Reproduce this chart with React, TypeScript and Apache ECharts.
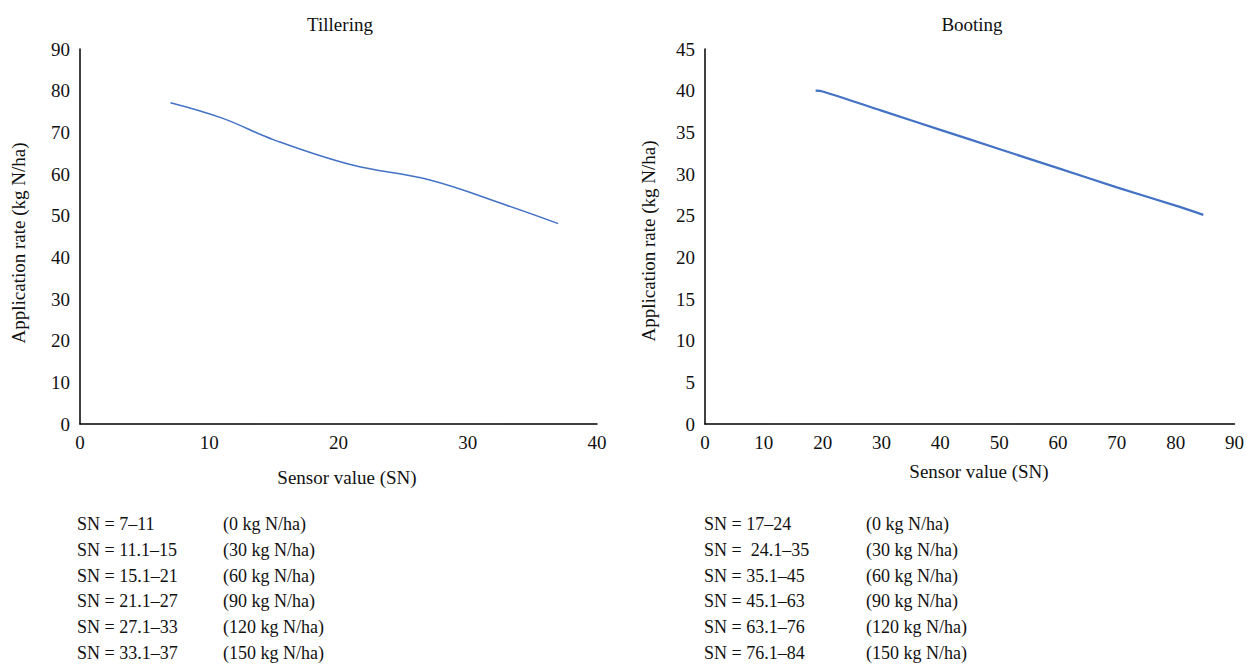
import React, { useEffect, useRef } from "react";
import * as echarts from "echarts";

const tilleringSN = [7, 11, 15, 21, 27, 33, 37];
const tilleringRate = [77.1, 73.4, 68.2, 62.2, 58.6, 52.5, 48.1];

const bootingSN = [18.8, 20, 30, 40, 50, 60, 70, 80, 84.7];
const bootingRate = [40.0, 39.9, 37.6, 35.3, 33.0, 30.7, 28.4, 26.2, 25.1];

const tilleringRanges = ["SN = 7–11", "SN = 11.1–15", "SN = 15.1–21", "SN = 21.1–27", "SN = 27.1–33", "SN = 33.1–37"];
const bootingRanges = ["SN = 17–24", "SN =  24.1–35", "SN = 35.1–45", "SN = 45.1–63", "SN = 63.1–76", "SN = 76.1–84"];
const rateLabels = ["(0 kg N/ha)", "(30 kg N/ha)", "(60 kg N/ha)", "(90 kg N/ha)", "(120 kg N/ha)", "(150 kg N/ha)"];

const FONT = "'Liberation Serif', 'Times New Roman', serif";
const INK = "#111";

export default function App() {
  const ref = useRef<HTMLDivElement>(null);
  useEffect(() => {
    document.body.style.margin = "0";
    const chart = echarts.init(ref.current!, null, { renderer: "svg" });
    const axisLine = { show: true, lineStyle: { color: "#000", width: 1.5 } };
    const axisLabel = { color: INK, fontSize: 19, fontFamily: FONT };
    const texts: any[] = [];
    const addCol = (arr: string[], x: number) => {
      arr.forEach((t, i) => {
        texts.push({
          type: "text",
          x,
          y: 524 + i * 25.8,
          style: { text: t, fontSize: 18, fontFamily: FONT, fill: INK, align: "left", verticalAlign: "middle" },
        });
      });
    };
    addCol(tilleringRanges, 77);
    addCol(rateLabels, 223);
    addCol(bootingRanges, 704);
    addCol(rateLabels, 866);

    const label = (text: string, x: number, y: number, rot = 0) => ({
      type: "text",
      x,
      y,
      rotation: rot,
      style: { text, fontSize: 19, fontFamily: FONT, fill: INK, align: "center", verticalAlign: "middle" },
    });
    texts.push(label("Tillering", 340, 24));
    texts.push(label("Booting", 972, 24));
    texts.push(label("Sensor value (SN)", 347, 477));
    texts.push(label("Sensor value (SN)", 979, 471));
    texts.push(label("Application rate (kg N/ha)", 18, 243, Math.PI / 2));
    texts.push(label("Application rate (kg N/ha)", 648, 241, Math.PI / 2));

    chart.setOption({
      animation: false,
      grid: [
        { left: 80, top: 49, width: 517, height: 375 },
        { left: 705, top: 49, width: 531, height: 375 },
      ],
      xAxis: [
        {
          gridIndex: 0, type: "value", min: 0, max: 40, interval: 10,
          axisLine, axisTick: { show: false }, splitLine: { show: false },
          axisLabel: { ...axisLabel, margin: 9 },
        },
        {
          gridIndex: 1, type: "value", min: 0, max: 90, interval: 10,
          axisLine, axisTick: { show: false }, splitLine: { show: false },
          axisLabel: { ...axisLabel, margin: 9 },
        },
      ],
      yAxis: [
        {
          gridIndex: 0, type: "value", min: 0, max: 90, interval: 10,
          axisLine, axisTick: { show: false }, splitLine: { show: false },
          axisLabel: { ...axisLabel, margin: 10 },
        },
        {
          gridIndex: 1, type: "value", min: 0, max: 45, interval: 5,
          axisLine, axisTick: { show: false }, splitLine: { show: false },
          axisLabel: { ...axisLabel, margin: 10 },
        },
      ],
      series: [
        {
          type: "line", xAxisIndex: 0, yAxisIndex: 0, smooth: 0.4, showSymbol: false,
          data: tilleringSN.map((x, i) => [x, tilleringRate[i]]),
          lineStyle: { color: "#4472C4", width: 1.5 },
        },
        {
          type: "line", xAxisIndex: 1, yAxisIndex: 1, smooth: 0.3, showSymbol: false,
          data: bootingSN.map((x, i) => [x, bootingRate[i]]),
          lineStyle: { color: "#4472C4", width: 2.2 },
        },
      ],
      graphic: texts,
    });
    return () => chart.dispose();
  }, []);
  return <div ref={ref} style={{ width: 1247, height: 664 }} />;
}
